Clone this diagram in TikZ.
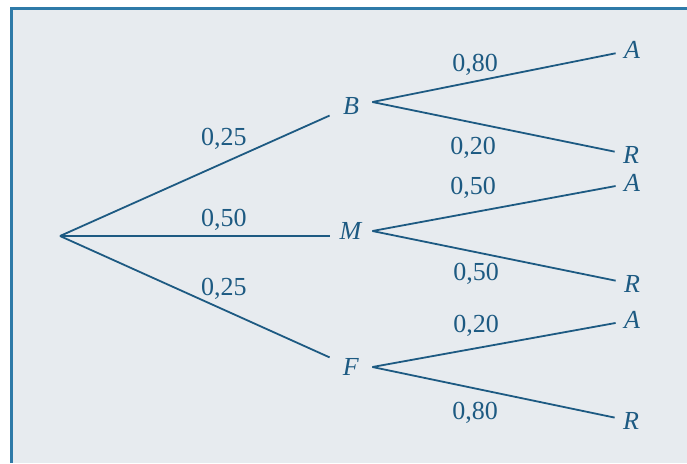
\documentclass[tikz,border=0pt]{standalone}
\usepackage{fontspec}
\setmainfont{Liberation Serif}
\usetikzlibrary{positioning}

\definecolor{treeblue}{RGB}{29,90,130}
\definecolor{framblue}{RGB}{47,122,168}
\definecolor{panelbg}{RGB}{231,235,239}

\begin{document}
\begin{tikzpicture}[
    x=0.5pt, y=-0.5pt,
    every node/.style={text=treeblue, font=\fontsize{13}{15}\selectfont},
    event/.style={minimum width=21pt, inner ysep=3pt},
    leaf/.style={inner sep=4pt},
    prob/.style={inner sep=0pt},
    branch/.style={draw=treeblue, line width=0.9pt}
]
    % Panel
    \useasboundingbox (0,0) rectangle (687,463);
    \fill[panelbg] (10,7) rectangle (687,463);
    \draw[framblue, line width=1.5pt] (11,463) -- (11,8.5) -- (687,8.5);

    % Root and first level
    \coordinate (root) at (60,236);
    \node[event] (b) at (351,106) {\textit{B}};
    \node[event] (m) at (351,231) {\textit{M}};
    \node[event] (f) at (351,367) {\textit{F}};

    % Second level
    \node[leaf] (ba) at (632,50) {\textit{A}};
    \node[leaf] (br) at (631,155) {\textit{R}};
    \node[leaf] (ma) at (632,183) {\textit{A}};
    \node[leaf] (mr) at (632,284) {\textit{R}};
    \node[leaf] (fa) at (632,320) {\textit{A}};
    \node[leaf] (fr) at (631,421) {\textit{R}};

    % Probabilities
    \node[prob] (pb) at (224,139) {0,25};
    \node[prob] (pm) at (224,220) {0,50};
    \node[prob] (pf) at (224,289) {0,25};
    \node[prob] (pba) at (475,65) {0,80};
    \node[prob] (pbr) at (473,148) {0,20};
    \node[prob] (pma) at (473,188) {0,50};
    \node[prob] (pmr) at (476,274) {0,50};
    \node[prob] (pfa) at (476,326) {0,20};
    \node[prob] (pfr) at (475,413) {0,80};

    \draw[branch] (root) -- (b);
    \draw[branch] (root) -- (root -| m.west);
    \draw[branch] (root) -- (f);
    \draw[branch] ([yshift=2pt]b.east) -- (ba);
    \draw[branch] ([yshift=2pt]b.east) -- (br);
    \draw[branch] (m.east) -- (ma);
    \draw[branch] (m.east) -- (mr);
    \draw[branch] (f.east) -- (fa);
    \draw[branch] (f.east) -- (fr);
\end{tikzpicture}
\end{document}
